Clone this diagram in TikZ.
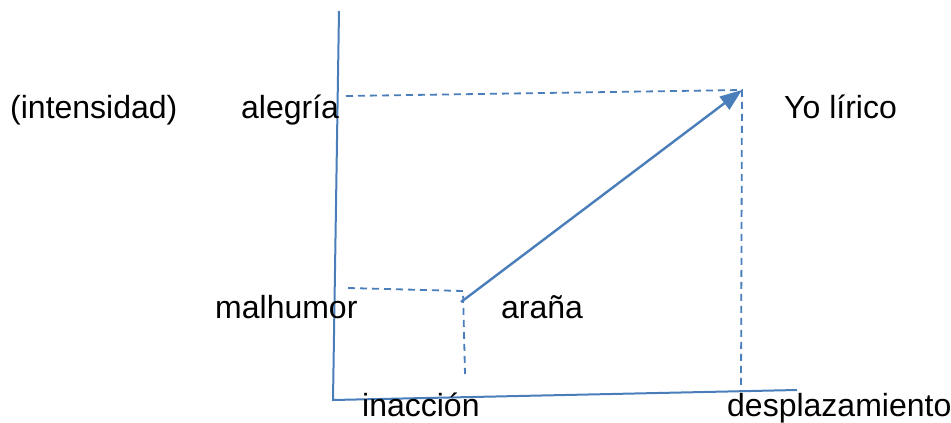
\documentclass[tikz,border=0pt]{standalone}
\usepackage{fontspec}
\setmainfont{Liberation Sans}
\usetikzlibrary{arrows.meta}
\definecolor{axisblue}{HTML}{4A7EBB}
\tikzset{
  lbl/.style={anchor=base west, inner sep=0pt, font=\fontsize{32}{38}\selectfont},
  axisline/.style={draw=axisblue, line width=2pt},
  guide/.style={draw=axisblue, line width=1.8pt, dash pattern=on 7pt off 5pt},
  vec/.style={draw=axisblue, line width=2.4pt, -{Triangle[length=22pt,width=16pt]}}
}
\begin{document}
\begin{tikzpicture}[x=1pt,y=-1pt]
\useasboundingbox (0,0) rectangle (951,423);
% coordinates
\coordinate (ytop) at (339,11);
\coordinate (orig) at (333,400);
\coordinate (xend) at (797,390);
\coordinate (hiL) at (346,96);
\coordinate (hiR) at (742,90);
\coordinate (hiB) at (741,388);
\coordinate (loL) at (348,288);
\coordinate (loC) at (463,291);
\coordinate (loB) at (465,374);
\coordinate (vs) at (461,302);
% axes
\draw[axisline] (ytop) -- (orig) -- (xend);
% guides
\draw[guide] (hiL) -- (hiR) -- (hiB);
\draw[guide] (loL) -- (loC) -- (loB);
% vector
\draw[vec] (vs) -- (hiR);
% labels
\node[lbl] (int) at (10,118) {(intensidad)};
\node[lbl] (ale) at (241,118) {alegría};
\node[lbl] (yo) at (784,118) {Yo lírico};
\node[lbl] (mal) at (215,318) {malhumor};
\node[lbl] (ara) at (501,318) {araña};
\node[lbl] (ina) at (362,416) {inacción};
\node[lbl] (des) at (727,416) {desplazamiento};
\end{tikzpicture}
\end{document}
